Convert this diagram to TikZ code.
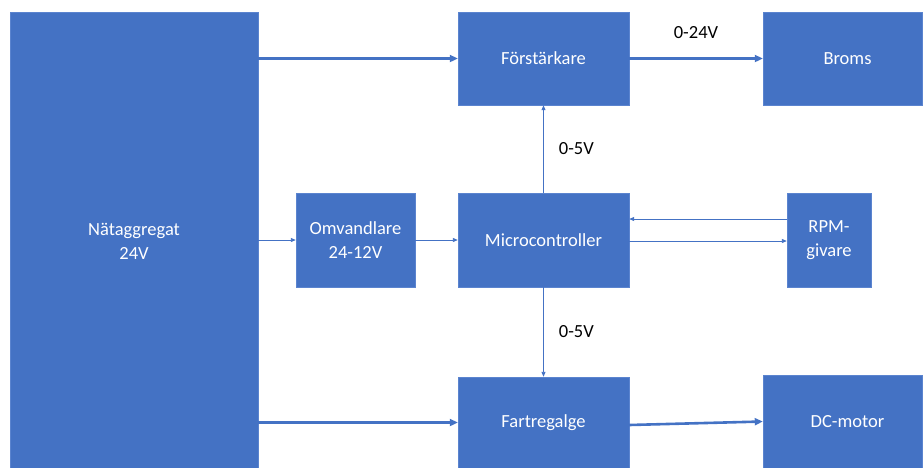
\documentclass[tikz,border=0pt]{standalone}
\usepackage{fontspec}
\setmainfont{Carlito}
\usepackage{xcolor}
\usetikzlibrary{arrows.meta,positioning,calc}
\definecolor{officeblue}{HTML}{4472C4}
\definecolor{officeedge}{HTML}{5B84CF}

\begin{document}
\begin{tikzpicture}[x=1pt,y=-1pt,
  blk/.style={draw=officeedge,fill=officeblue,text=white,align=center,
              inner sep=0pt,font=\fontsize{18.5}{24}\selectfont},
  bigarrow/.style={officeblue,line width=2.6pt,-{Triangle[length=8pt,width=7pt]}},
  thinarrow/.style={officeblue,line width=0.9pt,-{Triangle[length=5pt,width=4pt]}},
  lbl/.style={font=\fontsize{18.5}{24}\selectfont,text=black,inner sep=0pt}]
 \useasboundingbox (0,0) rectangle (924,467);
 \node[blk,minimum width=248,minimum height=458] (nat) at (134,241) {Nätaggregat\\24V};
 \node[blk,minimum width=171,minimum height=93] (forst) at (543.5,58.5) {Förstärkare};
 \node[blk,minimum width=159,minimum height=93] (broms) at (842.5,58.5) {\hspace*{10pt}Broms};
 \node[blk,minimum width=119,minimum height=94] (omv) at (355.5,240) {Omvandlare\\24-12V};
 \node[blk,minimum width=171,minimum height=94] (mcu) at (543.5,240) {Microcontroller};
 \node[blk,minimum width=84,minimum height=94] (rpm) at (829,240) {RPM-\\givare};
 \node[blk,minimum width=171,minimum height=91] (fart) at (543.5,422.5) {Fartregalge};
 \node[blk,minimum width=159,minimum height=93] (dc) at (842.5,421.5) {\hspace*{10pt}DC-motor};

 \draw[bigarrow] (nat.east |- forst) -- (forst.west);
 \draw[bigarrow] (forst.east) -- node[lbl,above=19pt] (volt24) {0-24V} (broms.west);
 \draw[thinarrow] (mcu.north) -- node[lbl,right=15pt] (volt5a) {0-5V} (forst.south);
 \draw[thinarrow] (nat.east |- omv) -- (omv.west);
 \draw[thinarrow] (omv.east) -- (mcu.west);
 \draw[thinarrow] ([yshift=21pt]rpm.west) -- ([yshift=21pt]mcu.east);
 \draw[thinarrow] ([yshift=-1pt]mcu.east) -- ([yshift=-1pt]rpm.west);
 \draw[thinarrow] (mcu.south) -- node[lbl,right=15pt] (volt5b) {0-5V} (fart.north);
 \draw[bigarrow] (nat.east |- fart) -- (fart.west);
 \draw[bigarrow] ([yshift=-2.5pt]fart.east) -- (dc.west);
\end{tikzpicture}
\end{document}
